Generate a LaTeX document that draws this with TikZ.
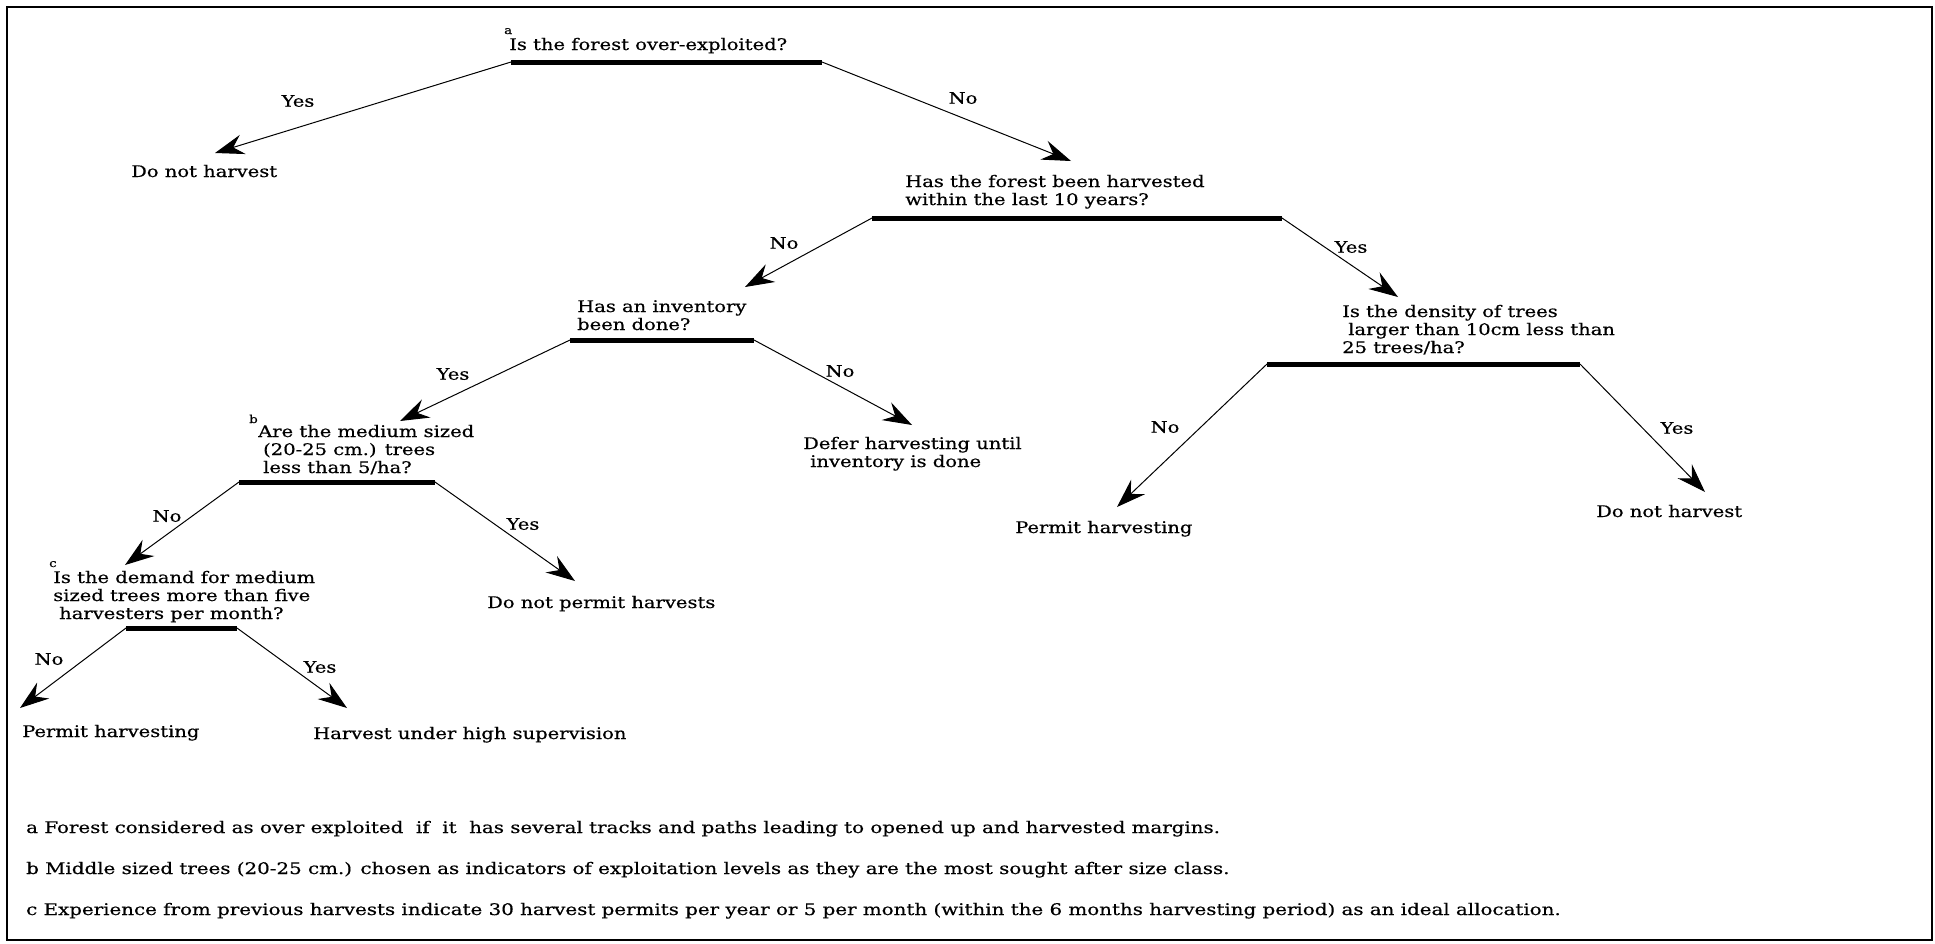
\documentclass[tikz,border=0pt]{standalone}
\usepackage{fontspec}
\setmainfont{DejaVu Serif}[FakeStretch=1.22,FakeBold=0.5]
\newfontfamily\notefont{DejaVu Serif}[FakeStretch=1.24,FakeBold=0.5]
\usetikzlibrary{arrows.meta}
\tikzset{
  txt/.style={anchor=base west, inner sep=0pt, font=\fontsize{16}{18}\selectfont},
  lab/.style={anchor=center, inner sep=0pt, font=\fontsize{16}{18}\selectfont},
  sup/.style={anchor=base west, inner sep=0pt, font=\fontsize{11}{12}\selectfont},
  note/.style={anchor=base west, inner sep=0pt, font=\notefont\fontsize{16}{18}\selectfont},
  bar/.style={line width=5pt},
  arr/.style={line width=1pt, -{Stealth[length=29pt,width=20pt,inset=10pt]}},
  frame/.style={line width=2pt}
}
\newcommand{\ml}[1]{\begin{tabular}[t]{@{}l@{}}#1\end{tabular}}
\begin{document}
\begin{tikzpicture}[x=1pt,y=-1pt]
\useasboundingbox (0,0) rectangle (1935,943);
\draw[frame] (7,7) rectangle (1932,940);

% bars (decision nodes)
\coordinate (q1l) at (511,62);  \coordinate (q1r) at (822,62);
\coordinate (q2l) at (872,218); \coordinate (q2r) at (1282,218);
\coordinate (q3l) at (570,340); \coordinate (q3r) at (754,340);
\coordinate (q4l) at (239,482); \coordinate (q4r) at (435,482);
\coordinate (q5l) at (1267,364); \coordinate (q5r) at (1580,364);
\coordinate (q6l) at (126,628); \coordinate (q6r) at (237,628);
\foreach \q in {q1,q2,q3,q4,q5,q6} \draw[bar] (\q l) -- (\q r);

% question texts
\node[sup] (sa) at (504,34) {a};
\node[txt] (q1) at (509,50) {Is the forest over-exploited?};
\node[txt] (q2) at (905,187) {\ml{Has the forest been harvested\\within the last 10 years?}};
\node[txt] (q3) at (577,312) {\ml{Has an inventory\\been done?}};
\node[sup] (sb) at (249,423) {b};
\node[txt] (q4) at (258,437) {\ml{Are the medium sized\\\hspace{5pt}(20-25 cm.) trees\\\hspace{5pt}less than 5/ha?}};
\node[txt] (q5) at (1342,317) {\ml{Is the density of trees\\\hspace{6pt}larger than 10cm less than\\25 trees/ha?}};
\node[sup] (sc) at (49,567) {c};
\node[txt] (q6) at (53,583) {\ml{Is the demand for medium\\sized trees more than five\\\hspace{6pt}harvesters per month?}};

% outcomes
\node[txt] (o1) at (131,177) {Do not harvest};
\node[txt] (o2) at (803,449) {\ml{Defer harvesting until\\\hspace{7pt}inventory is done}};
\node[txt] (o3) at (1015,533) {Permit harvesting};
\node[txt] (o4) at (1596,517) {Do not harvest};
\node[txt] (o5) at (487,608) {Do not permit harvests};
\node[txt] (o6) at (22,737) {Permit harvesting};
\node[txt] (o7) at (313,739) {Harvest under high supervision};

% arrow tips
\coordinate (t1) at (215,153);
\coordinate (t2) at (1071,161);
\coordinate (t3) at (745,287);
\coordinate (t4) at (1398,297);
\coordinate (t5) at (400,421);
\coordinate (t6) at (912,425);
\coordinate (t7) at (125,565);
\coordinate (t8) at (575,581);
\coordinate (t9) at (1117,507);
\coordinate (t10) at (1705,492);
\coordinate (t11) at (20,708);
\coordinate (t12) at (347,708);

\draw[arr] (q1l) -- (t1);
\draw[arr] (q1r) -- (t2);
\draw[arr] (q2l) -- (t3);
\draw[arr] (q2r) -- (t4);
\draw[arr] (q3l) -- (t5);
\draw[arr] (q3r) -- (t6);
\draw[arr] (q4l) -- (t7);
\draw[arr] (q4r) -- (t8);
\draw[arr] (q5l) -- (t9);
\draw[arr] (q5r) -- (t10);
\draw[arr] (q6l) -- (t11);
\draw[arr] (q6r) -- (t12);

% labels
\node[lab] (l1) at (298,101) {Yes};
\node[lab] (l2) at (963,98) {No};
\node[lab] (l3) at (784,243) {No};
\node[lab] (l4) at (1351,247) {Yes};
\node[lab] (l5) at (453,374) {Yes};
\node[lab] (l6) at (840,371) {No};
\node[lab] (l7) at (167,516) {No};
\node[lab] (l8) at (523,524) {Yes};
\node[lab] (l9) at (1165,427) {No};
\node[lab] (l10) at (1677,428) {Yes};
\node[lab] (l11) at (49,659) {No};
\node[lab] (l12) at (320,667) {Yes};

% footnotes
\node[note] (fa) at (26,833) {a Forest considered as over exploited\ \ if\ \ it\ \ has several tracks and paths leading to opened up and harvested margins.};
\node[note] (fb) at (26,874) {b Middle sized trees (20-25 cm.) chosen as indicators of exploitation levels as they are the most sought after size class.};
\node[note] (fc) at (26,915) {c Experience from previous harvests indicate 30 harvest permits per year or 5 per month (within the 6 months harvesting period) as an ideal allocation.};
\end{tikzpicture}
\end{document}
